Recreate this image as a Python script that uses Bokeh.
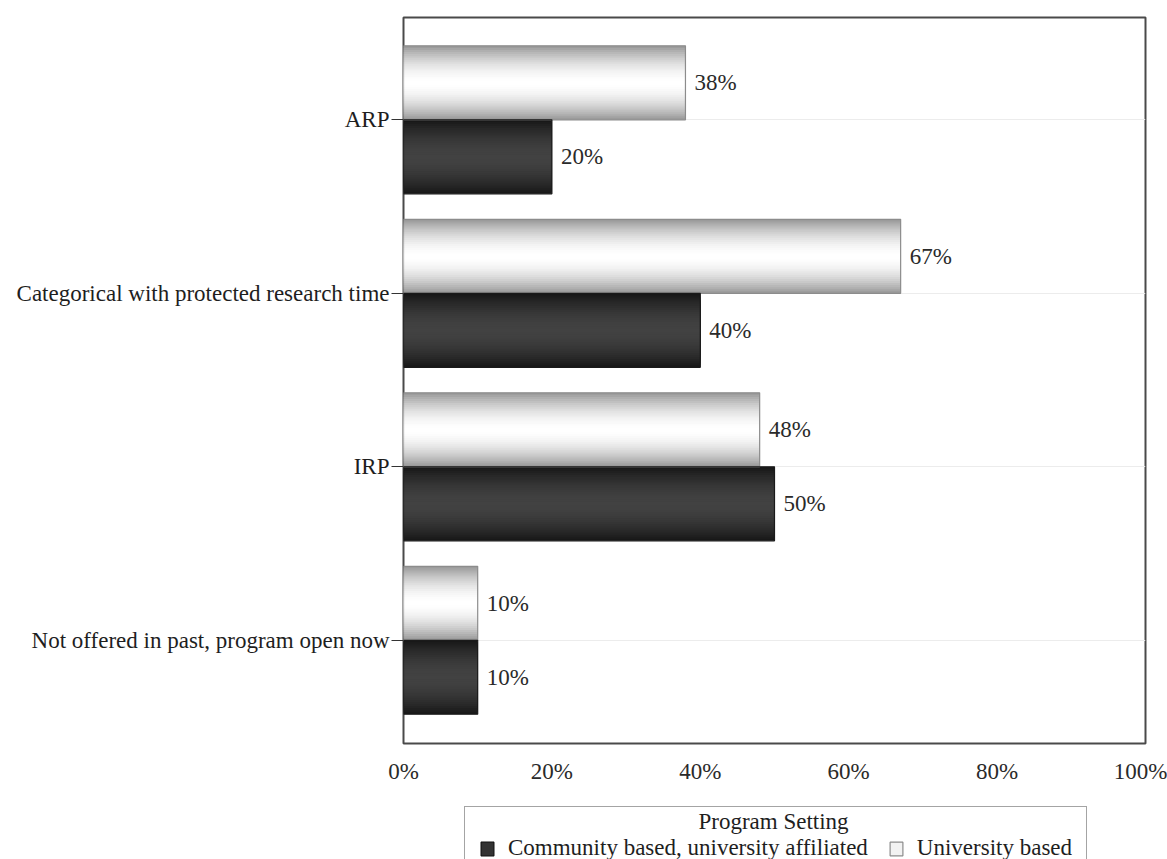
from bokeh.plotting import figure
from bokeh.layouts import column
from bokeh.models import (ColumnDataSource, FixedTicker, Legend, LegendItem,
                          Label, Range1d)
from bokeh.core.properties import value
from bokeh.embed import file_html
from bokeh.resources import INLINE

# ---- data -------------------------------------------------------------
categories = ["ARP",
              "Categorical with protected research time",
              "IRP",
              "Not offered in past, program open now"]
university_based = [38, 67, 48, 10]
community_affiliated = [20, 40, 50, 10]
x_ticks = [0, 20, 40, 60, 80, 100]
x_tick_labels = ["0%", "20%", "40%", "60%", "80%", "100%"]
legend_title = "Program Setting"
series_names = ["Community based, university affiliated", "University based"]

FONT = "Liberation Serif"
FS = "23px"

n = len(categories)
pos = [n - 1 - i for i in range(n)]          # first category at the top
BAR_H = 0.4265                                # height of one bar (category units)

univ_src = ColumnDataSource(dict(
    y=[p_ + BAR_H / 2 for p_ in pos], v=university_based,
    lbl=[f"{v}%" for v in university_based]))
comm_src = ColumnDataSource(dict(
    y=[p_ - BAR_H / 2 for p_ in pos], v=community_affiliated,
    lbl=[f"{v}%" for v in community_affiliated]))

MAIN_H = 790
LEFT = 403
p = figure(width=1167, height=MAIN_H, output_backend="svg", toolbar_location=None,
           x_range=Range1d(0, 100), y_range=Range1d(-0.595, 3.59),
           min_border_left=LEFT, min_border_right=22, min_border_top=17,
           min_border_bottom=47, background_fill_color="white",
           border_fill_color="white")

p.outline_line_color = "#4a4a4a"
p.outline_line_width = 2

# ---- grid ---------------------------------------------------------------
p.xgrid.visible = False
p.ygrid.ticker = FixedTicker(ticks=pos)
p.ygrid.grid_line_color = "#ececec"
p.ygrid.grid_line_width = 1


def shade(edge, center, d):
    """Grey level between bar centre (d=0) and bar edge (d=1)."""
    g = int(round(center + (edge - center) * d ** 1.8))
    return "#{0:02x}{0:02x}{0:02x}".format(g)


# ---- bars with a vertical gradient built from nested layers ------------
N = 18
for k in range(N):
    frac = 1 - k / N
    d = 1 - (k + 0.5) / N
    p.hbar(y="y", left=0, right="v", height=BAR_H * frac, source=univ_src,
           fill_color=shade(150, 255, d), line_color=None)
    p.hbar(y="y", left=0, right="v", height=BAR_H * frac, source=comm_src,
           fill_color=shade(22, 66, d), line_color=None)

p.hbar(y="y", left=0, right="v", height=BAR_H, source=univ_src,
       fill_alpha=0, line_color="#8c8c8c", line_width=1.2)
p.hbar(y="y", left=0, right="v", height=BAR_H, source=comm_src,
       fill_alpha=0, line_color="#1a1a1a", line_width=1.2)

# ---- value labels -------------------------------------------------------
for src in (univ_src, comm_src):
    p.text(x="v", y="y", text="lbl", source=src, x_offset=9,
           text_baseline="middle", text_align="left",
           text_font=value(FONT), text_font_size=FS, text_color="#2a2a2a")

# ---- axes ---------------------------------------------------------------
p.yaxis.ticker = FixedTicker(ticks=pos)
p.yaxis.major_label_overrides = {pp: c for pp, c in zip(pos, categories)}
p.yaxis.axis_line_color = None
p.yaxis.major_tick_in = 0
p.yaxis.major_tick_out = 12
p.yaxis.major_tick_line_color = "#333333"
p.yaxis.minor_tick_line_color = None
p.yaxis.major_label_standoff = 2
p.yaxis.major_label_text_font = FONT
p.yaxis.major_label_text_font_size = FS
p.yaxis.major_label_text_color = "#1e1e1e"

p.xaxis.ticker = FixedTicker(ticks=x_ticks)
p.xaxis.major_label_overrides = dict(zip(x_ticks, x_tick_labels))
p.xaxis.axis_line_color = None
p.xaxis.major_tick_line_color = None
p.xaxis.minor_tick_line_color = None
p.xaxis.major_label_standoff = 9
p.xaxis.major_label_text_font = FONT
p.xaxis.major_label_text_font_size = FS
p.xaxis.major_label_text_color = "#2a2a2a"

# ---- legend strip underneath (its frame lines up with the plot frame) ----
LEG_H = 859 - MAIN_H
q = figure(width=1167, height=LEG_H, output_backend="svg", toolbar_location=None,
           x_axis_type=None, y_axis_type=None, x_range=Range1d(0, 1),
           y_range=Range1d(0, 1), min_border=0, outline_line_color=None,
           background_fill_color="white", border_fill_color="white")
q.grid.visible = False

# key swatches: renderers with no drawable bar, used only by the legend
nan = float("nan")
key_src = ColumnDataSource(dict(y=[nan], l=[nan], r=[nan]))
comm_key = q.hbar(y="y", left="l", right="r", height=1, source=key_src,
                  fill_color="#333333", line_color="#111111", line_width=1.2)
univ_key = q.hbar(y="y", left="l", right="r", height=1, source=key_src,
                  fill_color="#f2f2f2", line_color="#8c8c8c", line_width=1.2)

legend = Legend(items=[
    LegendItem(label=series_names[0], renderers=[comm_key]),
    LegendItem(label=series_names[1], renderers=[univ_key]),
], orientation="horizontal", location=(464 - LEFT, -17))
legend.title = " "
legend.title_text_font_size = "11px"
legend.title_standoff = 2
legend.padding = 14
legend.margin = 0
legend.spacing = 20
legend.glyph_width = 16
legend.glyph_height = 17
legend.label_standoff = 13
legend.label_text_font = FONT
legend.label_text_font_size = FS
legend.label_text_color = "#1e1e1e"
legend.border_line_color = "#4a4a4a"
legend.border_line_width = 1.5
legend.background_fill_alpha = 0
q.add_layout(legend, "center")

q.add_layout(Label(x=773 - LEFT, y=LEG_H - 31, x_units="screen", y_units="screen",
                   text=legend_title, text_align="center",
                   text_baseline="middle", text_font=FONT, text_font_size=FS,
                   text_color="#1e1e1e"))

layout = column(p, q, spacing=0)
open("out.html", "w").write(file_html(layout, INLINE))
